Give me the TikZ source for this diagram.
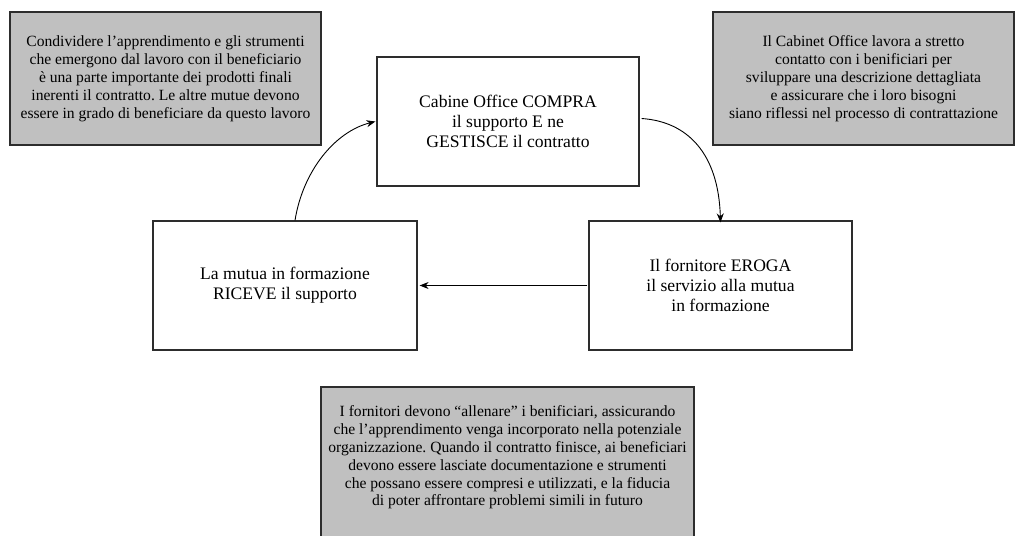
\documentclass[tikz,border=0pt]{standalone}
\usepackage{fontspec}
\setmainfont{Liberation Serif}
\usetikzlibrary{arrows.meta}
\definecolor{boxgray}{RGB}{192,192,192}
\definecolor{edge}{RGB}{45,45,45}
\frenchspacing
\tikzset{
  whitebox/.style={draw=edge, line width=1.2pt, fill=white, align=center, inner sep=0pt,
    font=\fontsize{17.6}{20}\selectfont},
  graybox/.style={draw=edge, line width=1.2pt, fill=boxgray, align=center, inner sep=0pt,
    font=\fontsize{15.6}{18}\selectfont},
  flow/.style={draw=black, line width=0.9pt, -{Stealth[length=9pt,width=7pt]}}
}
\begin{document}
\begin{tikzpicture}[x=1pt,y=-1pt]
\useasboundingbox (0,0) rectangle (1016,535);
\clip (0,0) rectangle (1016,535);
\fill[white] (0,0) rectangle (1016,535);
% gray notes
\node[graybox, minimum width=311, minimum height=133] (lg) at (165.5,78.5)
  {Condividere l’apprendimento e gli strumenti\\
   che emergono dal lavoro con il beneficiario\\
   è una parte importante dei prodotti finali\\
   inerenti il contratto. Le altre mutue devono\\
   essere in grado di beneficiare da questo lavoro};
\node[graybox, minimum width=301, minimum height=133] (rg) at (863.5,78.5)
  {Il Cabinet Office lavora a stretto\\
   contatto con i benificiari per\\
   sviluppare una descrizione dettagliata\\
   e assicurare che i loro bisogni\\
   siano riflessi nel processo di contrattazione};
% bottom note (extends beyond lower edge)
\fill[boxgray] (321,387) rectangle (694,560);
\draw[edge, line width=1.2pt] (321,560) -- (321,387) -- (694,387) -- (694,560);
\node[align=center, inner sep=0pt, font=\fontsize{15.6}{17.8}\selectfont] (bg) at (507.5,457.5)
  {I fornitori devono “allenare” i benificiari, assicurando\\
   che l’apprendimento venga incorporato nella potenziale\\
   organizzazione. Quando il contratto finisce, ai beneficiari\\
   devono essere lasciate documentazione e strumenti\\
   che possano essere compresi e utilizzati, e la fiducia\\
   di poter affrontare problemi simili in futuro};
% process boxes
\node[whitebox, minimum width=262, minimum height=129] (t) at (508,121.5)
  {Cabine Office COMPRA\\ il supporto E ne\\ GESTISCE il contratto};
\node[whitebox, minimum width=264, minimum height=129] (l) at (285,285.5)
  {La mutua in formazione\\ RICEVE il supporto};
\node[whitebox, minimum width=263, minimum height=129] (r) at (720.5,285.5)
  {Il fornitore EROGA\\ il servizio alla mutua\\ in formazione};
% connectors
\draw[flow] ([xshift=10pt]l.north) .. controls +(8,-50) and +(-40,10) .. ([xshift=-1pt]t.west);
\draw[flow] ([xshift=2pt,yshift=3pt]t.east) .. controls +(45,3) and +(-2,-70) .. ([yshift=-2pt]r.north);
\draw[flow] ([xshift=-1pt]r.west) -- ([xshift=2pt]l.east);
\end{tikzpicture}
\end{document}
